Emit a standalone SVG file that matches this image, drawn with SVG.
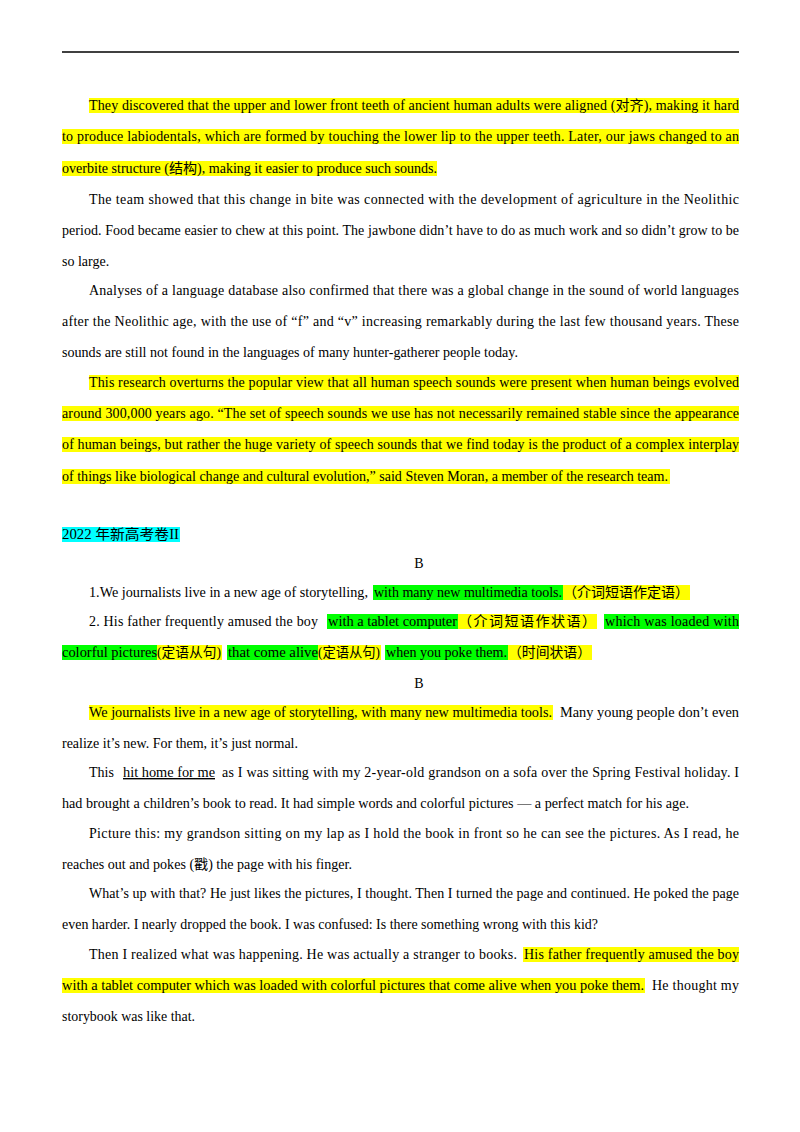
<svg xmlns="http://www.w3.org/2000/svg" width="800" height="1132" viewBox="0 0 800 1132">
<style>
text{font-family:"Liberation Serif","Noto Sans CJK SC",serif;font-size:14px;fill:#000}
.y{fill:#ffff00}.g{fill:#00ff00}.c{fill:#00ffff}
</style>
<rect width="800" height="1132" fill="#fff"/>
<line x1="62" y1="52" x2="739" y2="52" stroke="#000" stroke-width="1.5"/>
<g id="highlights">
<rect class="y" x="89" y="98" width="650" height="15"/>
<rect class="y" x="62" y="129" width="677" height="15"/>
<rect class="y" x="62" y="161" width="375" height="15"/>
<rect class="y" x="89" y="375" width="650" height="15"/>
<rect class="y" x="62" y="406" width="677" height="15"/>
<rect class="y" x="62" y="437" width="677" height="15"/>
<rect class="y" x="62" y="469" width="608" height="15"/>
<rect class="c" x="62" y="527" width="118" height="15"/>
<rect class="g" x="373" y="585" width="190" height="15"/>
<rect class="y" x="563" y="585" width="127" height="15"/>
<rect class="g" x="327" y="614" width="131" height="15"/>
<rect class="y" x="458" y="614" width="139" height="15"/>
<rect class="g" x="604" y="614" width="135" height="15"/>
<rect class="g" x="62" y="645" width="95" height="15"/>
<rect class="y" x="157" y="645" width="65" height="15"/>
<rect class="g" x="227" y="645" width="91" height="15"/>
<rect class="y" x="318" y="645" width="63" height="15"/>
<rect class="g" x="385" y="645" width="123" height="15"/>
<rect class="y" x="508" y="645" width="84" height="15"/>
<rect class="y" x="89" y="705" width="464" height="15"/>
<rect class="y" x="523" y="947" width="216" height="15"/>
<rect class="y" x="62" y="978" width="583" height="15"/>
</g>
<g id="text">
<text x="89" y="110" textLength="650" lengthAdjust="spacing">They discovered that the upper and lower front teeth of ancient human adults were aligned (对齐), making it hard</text>
<text x="62" y="141" textLength="677" lengthAdjust="spacing">to produce labiodentals, which are formed by touching the lower lip to the upper teeth. Later, our jaws changed to an</text>
<text x="62" y="173" textLength="375" lengthAdjust="spacingAndGlyphs">overbite structure (结构), making it easier to produce such sounds.</text>
<text x="89" y="204" textLength="650" lengthAdjust="spacing">The team showed that this change in bite was connected with the development of agriculture in the Neolithic</text>
<text x="62" y="235" textLength="677" lengthAdjust="spacing">period. Food became easier to chew at this point. The jawbone didn’t have to do as much work and so didn’t grow to be</text>
<text x="62" y="266">so large.</text>
<text x="89" y="295" textLength="650" lengthAdjust="spacing">Analyses of a language database also confirmed that there was a global change in the sound of world languages</text>
<text x="62" y="326" textLength="677" lengthAdjust="spacing">after the Neolithic age, with the use of “f” and “v” increasing remarkably during the last few thousand years. These</text>
<text x="62" y="357" textLength="456" lengthAdjust="spacingAndGlyphs">sounds are still not found in the languages of many hunter-gatherer people today.</text>
<text x="89" y="387" textLength="650" lengthAdjust="spacing">This research overturns the popular view that all human speech sounds were present when human beings evolved</text>
<text x="62" y="418" textLength="677" lengthAdjust="spacing">around 300,000 years ago.  “The set of speech sounds we use has not necessarily remained stable since the appearance</text>
<text x="62" y="449" textLength="677" lengthAdjust="spacing">of human beings, but rather the huge variety of speech sounds that we find today is the product of a complex interplay</text>
<text x="62" y="481" textLength="606" lengthAdjust="spacingAndGlyphs">of things like biological change and cultural evolution,” said Steven Moran, a member of the research team.</text>
<text x="62" y="539" textLength="117" lengthAdjust="spacingAndGlyphs">2022  年新高考卷II</text>
<text x="419" y="568" text-anchor="middle">B</text>
<text x="89" y="597" textLength="279" lengthAdjust="spacingAndGlyphs">1.We journalists live in a new age of storytelling,</text>
<text x="374" y="597" textLength="188" lengthAdjust="spacingAndGlyphs">with many new multimedia tools.</text>
<text x="563" y="597" textLength="126" lengthAdjust="spacingAndGlyphs">（介词短语作定语）</text>
<text x="89" y="626" textLength="229" lengthAdjust="spacing">2. His father frequently amused the boy</text>
<text x="328" y="626" textLength="129" lengthAdjust="spacingAndGlyphs">with a tablet computer</text>
<text x="458" y="626" textLength="138" lengthAdjust="spacing">（介词短语作状语）</text>
<text x="605" y="626" textLength="134" lengthAdjust="spacing">which was loaded with</text>
<text x="62" y="657" textLength="95" lengthAdjust="spacingAndGlyphs">colorful pictures</text>
<text x="157" y="657" textLength="64" lengthAdjust="spacingAndGlyphs">(定语从句)</text>
<text x="228" y="657" textLength="90" lengthAdjust="spacingAndGlyphs">that come alive</text>
<text x="318" y="657" textLength="62" lengthAdjust="spacingAndGlyphs">(定语从句)</text>
<text x="386" y="657" textLength="121" lengthAdjust="spacingAndGlyphs">when you poke them.</text>
<text x="508" y="657" textLength="83" lengthAdjust="spacingAndGlyphs">（时间状语）</text>
<text x="419" y="688" text-anchor="middle">B</text>
<text x="89" y="717" textLength="463" lengthAdjust="spacingAndGlyphs">We journalists live in a new age of storytelling, with many new multimedia tools.</text>
<text x="560" y="717" textLength="179" lengthAdjust="spacingAndGlyphs">Many young people don’t even</text>
<text x="62" y="748" textLength="236" lengthAdjust="spacingAndGlyphs">realize it’s new. For them, it’s just normal.</text>
<text x="89" y="777">This</text>
<text x="123" y="777" textLength="92" lengthAdjust="spacingAndGlyphs" text-decoration="underline">hit home for me</text>
<text x="222" y="777" textLength="517" lengthAdjust="spacing">as I was sitting with my 2-year-old grandson on a sofa over the Spring Festival holiday. I</text>
<text x="62" y="808" textLength="627" lengthAdjust="spacingAndGlyphs">had brought a children’s book to read. It had simple words and colorful pictures — a perfect match for his age.</text>
<text x="89" y="838" textLength="650" lengthAdjust="spacing">Picture this: my grandson sitting on my lap as I hold the book in front so he can see the pictures. As I read, he</text>
<text x="62" y="869" textLength="290" lengthAdjust="spacingAndGlyphs">reaches out and pokes (戳) the page with his finger.</text>
<text x="89" y="898" textLength="650" lengthAdjust="spacing">What’s up with that? He just likes the pictures, I thought. Then I turned the page and continued. He poked the page</text>
<text x="62" y="929" textLength="536" lengthAdjust="spacingAndGlyphs">even harder. I nearly dropped the book. I was confused: Is there something wrong with this kid?</text>
<text x="89" y="959" textLength="428" lengthAdjust="spacing">Then I realized what was happening. He was actually a stranger to books.</text>
<text x="524" y="959" textLength="215" lengthAdjust="spacing">His father frequently amused the boy</text>
<text x="62" y="990" textLength="582" lengthAdjust="spacingAndGlyphs">with a tablet computer which was loaded with colorful pictures that come alive when you poke them.</text>
<text x="652" y="990" textLength="87" lengthAdjust="spacing">He thought my</text>
<text x="62" y="1021" textLength="133" lengthAdjust="spacingAndGlyphs">storybook was like that.</text>
</g>
</svg>
